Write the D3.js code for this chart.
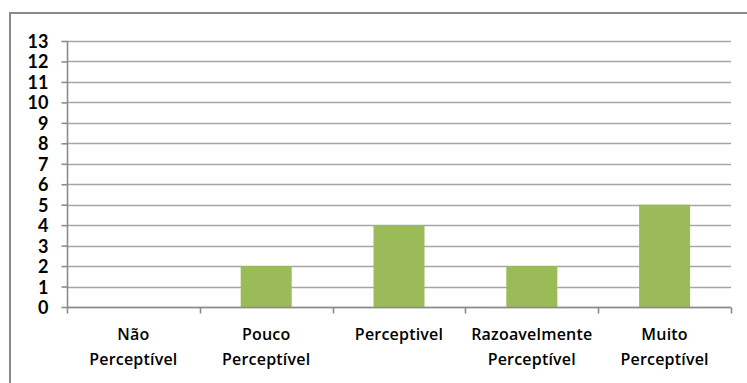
<!DOCTYPE html>
<html>
<head>
<meta charset="utf-8">
<script src="https://cdn.jsdelivr.net/npm/d3@7"></script>
<style>
  html, body { margin: 0; padding: 0; background: #fff; }
  svg { display: block; }
  text { font-family: "Open Sans", "Lato", sans-serif; fill: #000; }
</style>
</head>
<body>
<svg id="chart" width="747" height="383"></svg>
<script>
// Perception levels and the number of answers for each
const categories = [
  ["Não", "Perceptível"],
  ["Pouco", "Perceptível"],
  ["Perceptivel"],
  ["Razoavelmente", "Perceptível"],
  ["Muito", "Perceptível"]
];
const values = [0, 2, 4, 2, 5];
const yTicks = d3.range(0, 14);

const svg = d3.select("#chart");
const W = 747, H = 383;
const plot = { left: 67, right: 731, top: 41, bottom: 307 };

// Chart frame (only left and top edges fall inside the view)
svg.append("rect")
  .attr("x", 10).attr("y", 13)
  .attr("width", W + 20).attr("height", H + 20)
  .attr("fill", "#fff")
  .attr("stroke", "#8a8a8a")
  .attr("stroke-width", 2);

const x = d3.scaleBand()
  .domain(d3.range(categories.length))
  .range([plot.left, plot.right])
  .paddingInner(0)
  .paddingOuter(0);

const y = d3.scaleLinear()
  .domain([0, 13])
  .range([plot.bottom, plot.top]);

// Horizontal gridlines
svg.append("g")
  .selectAll("line")
  .data(yTicks)
  .join("line")
  .attr("x1", plot.left).attr("x2", plot.right)
  .attr("y1", d => Math.round(y(d)) + 0.5)
  .attr("y2", d => Math.round(y(d)) + 0.5)
  .attr("stroke", "#a6a6a6")
  .attr("stroke-width", 1.6);

// Bars
const barW = 51;
svg.append("g")
  .selectAll("rect")
  .data(values)
  .join("rect")
  .attr("x", (d, i) => x(i) + (x.bandwidth() - barW) / 2)
  .attr("y", d => y(d))
  .attr("width", barW)
  .attr("height", d => y(0) - y(d))
  .attr("fill", "#9bbb59");

// Y axis
const yAxis = svg.append("g")
  .attr("transform", `translate(${plot.left + 0.5},0)`)
  .call(d3.axisLeft(y).tickValues(yTicks).tickSize(6).tickPadding(13).tickFormat(d3.format("d")));
yAxis.select(".domain").attr("stroke", "#8c8c8c").attr("stroke-width", 1.6).attr("d", `M0,${plot.top}V${plot.bottom}`);
yAxis.selectAll(".tick line").attr("stroke", "#8c8c8c").attr("stroke-width", 1.6);
yAxis.selectAll(".tick text")
  .style("font-family", "Lato, sans-serif")
  .style("font-size", "18px")
  .style("font-weight", "700")
  .attr("dy", "0.36em")
  .attr("fill", "#111");

// X axis with category boundary ticks
const xAxis = svg.append("g")
  .attr("transform", `translate(0,${Math.round(plot.bottom) + 0.5})`);
xAxis.append("line")
  .attr("x1", plot.left).attr("x2", plot.right)
  .attr("stroke", "#8c8c8c").attr("stroke-width", 1.6);
xAxis.selectAll(".bound")
  .data(d3.range(categories.length + 1))
  .join("line")
  .attr("class", "bound")
  .attr("x1", i => Math.round(plot.left + i * x.step()) + 0.5)
  .attr("x2", i => Math.round(plot.left + i * x.step()) + 0.5)
  .attr("y1", 0).attr("y2", 6)
  .attr("stroke", "#8c8c8c").attr("stroke-width", 1.6);

// Category labels
const labels = svg.append("g");
categories.forEach((lines, i) => {
  const t = labels.append("text")
    .attr("x", x(i) + x.bandwidth() / 2)
    .attr("y", 340)
    .attr("text-anchor", "middle")
    .style("font-size", "16px")
    .style("font-weight", "600")
    .style("letter-spacing", "0.2px");
  lines.forEach((ln, k) => {
    t.append("tspan")
      .attr("x", x(i) + x.bandwidth() / 2)
      .attr("dy", k === 0 ? 0 : 25)
      .text(ln);
  });
});
</script>
</body>
</html>
